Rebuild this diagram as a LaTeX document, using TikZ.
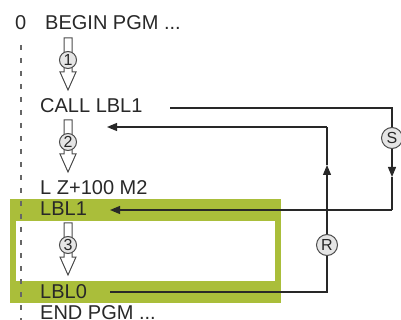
\documentclass[tikz,border=0pt]{standalone}
\usepackage{fontspec}
\setmainfont{Liberation Sans}
\usepackage{tikz}
\usetikzlibrary{arrows.meta}
\definecolor{lblgreen}{RGB}{170,190,58}
\definecolor{ink}{RGB}{40,40,40}
\tikzset{code/.style={anchor=base west,inner sep=0pt,text=ink,font=\fontsize{20}{22}\selectfont},
  conn/.style={line width=1.2pt,draw=ink},
  tip/.style={-{Triangle[length=10pt,width=8pt]}},
  badge/.style={circle,draw=black!70,fill=black!10,line width=1pt,minimum size=21pt,inner sep=0pt,text=ink,font=\fontsize{16}{16}\selectfont},
  numbadge/.style={badge,minimum size=17pt},
  hollow/.style={draw=black!70,fill=white,line width=1pt,line join=miter}}

\begin{document}
\begin{tikzpicture}[x=1pt,y=-1pt]
\useasboundingbox (0,0) rectangle (401,320);
% labelled block
\fill[lblgreen] (10,199) rectangle (281,303);
\fill[white] (16,221) rectangle (275,281);
\draw[line width=1.3pt,draw=black!60,dash pattern=on 5pt off 8pt] (21,45) -- (21,322);
% program lines
\node[code] (zero) at (15,30) {0};
\node[code] (begin) at (45,30) {BEGIN PGM ...};
\node[code] (call) at (40,113) {CALL LBL1};
\node[code] (lz) at (40,195) {L Z+100 M2};
\node[code] (lbla) at (40,216) {LBL1};
\node[code] (lblb) at (40,298) {LBL0};
\node[code] (endpgm) at (40,319) {END PGM ...};
% steps
\foreach \n/\c in {1/60,2/142,3/245}{
  \draw[hollow] (64,{\c-22}) -- (72,{\c-22}) -- (72,{\c+12}) -- (76,{\c+12}) -- (68,{\c+30})
    -- (60,{\c+12}) -- (64,{\c+12}) -- cycle;
  \node[numbadge] (n\n) at (68,\c) {\n};
}
% jump to label
\coordinate (callout) at (170,108);
\coordinate (s1) at (392,108);
\coordinate (sarrow) at (392,177);
\coordinate (s2) at (392,210);
\coordinate (lblin) at (110,210);
\node[badge] (S) at (392,138) {S};
\draw[conn] (callout) -- (s1) -- (S);
\draw[conn,tip] (S) -- (sarrow);
\draw[conn] (sarrow) -- (s2);
\draw[conn,tip] (s2) -- (lblin);
% return
\coordinate (lblout) at (110,292);
\coordinate (r1) at (327,292);
\coordinate (rarrow) at (327,165);
\coordinate (r2) at (327,127);
\coordinate (callin) at (107,127);
\node[badge] (R) at (327,245) {R};
\draw[conn] (lblout) -- (r1) -- (R);
\draw[conn,tip] (R) -- (rarrow);
\draw[conn] (rarrow) -- (r2);
\draw[conn,tip] (r2) -- (callin);
\end{tikzpicture}
\end{document}
